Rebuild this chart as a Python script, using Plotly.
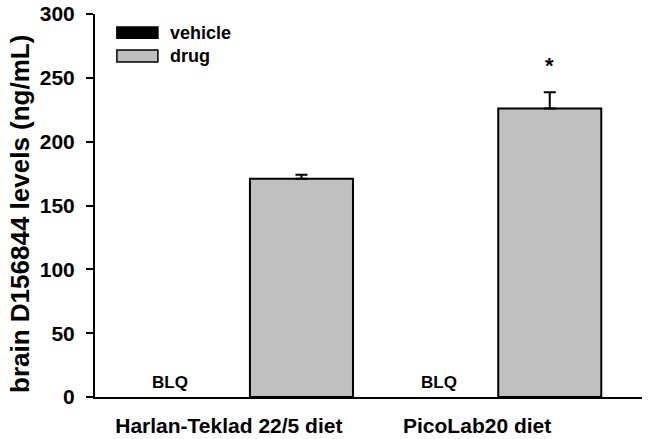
import plotly.graph_objects as go

# ---- data ----
categories = ["Harlan-Teklad 22/5 diet", "PicoLab20 diet"]
series_names = ["vehicle", "drug"]
vehicle_values = [None, None]          # below limit of quantification
vehicle_labels = ["BLQ", "BLQ"]
drug_values = [171, 226]
drug_errors = [3, 12.7]
significance = ["", "*"]
star_level = [None, 260]
y_ticks = [0, 50, 100, 150, 200, 250, 300]
y_title = "brain D156844 levels (ng/mL)"

# ---- layout constants ----
BAR_W = 0.415
LABEL_OFF = -0.085
BLQ_OFF = [-0.32, -0.24]
FONT = "Liberation Sans, Arial, sans-serif"
GRAY = "#c0c0c0"

idx = list(range(len(categories)))
veh_x = [i - BAR_W / 2 for i in idx]
drug_x = [i + BAR_W / 2 for i in idx]

fig = go.Figure()
fig.add_trace(go.Bar(
    x=veh_x, y=vehicle_values, width=BAR_W, name=series_names[0],
    marker=dict(color="black", line=dict(color="black", width=2)),
    showlegend=False,
))
fig.add_trace(go.Bar(
    x=drug_x, y=drug_values, width=BAR_W, name=series_names[1],
    marker=dict(color=GRAY, line=dict(color="black", width=2)),
    error_y=dict(type="data", array=drug_errors, symmetric=False,
                 arrayminus=[0] * len(drug_errors),
                 color="black", thickness=2, width=6),
    showlegend=False,
))

annotations = []
for i, lab in enumerate(vehicle_labels):
    annotations.append(dict(
        x=i + BLQ_OFF[i], y=0, xref="x", yref="y", text=lab, showarrow=False,
        yanchor="bottom", yshift=3,
        font=dict(family=FONT, size=17, color="black", weight="bold")))
for i, s in enumerate(significance):
    if s:
        annotations.append(dict(
            x=drug_x[i], y=star_level[i], xref="x", yref="y", text=s,
            showarrow=False, yanchor="middle",
            font=dict(family=FONT, size=22, color="black", weight="bold")))

# y-axis title
annotations.append(dict(
    x=-0.137, y=0.478, xref="paper", yref="paper", text=y_title,
    showarrow=False, textangle=-90, xanchor="center", yanchor="middle",
    font=dict(family=FONT, size=26, color="black", weight="bold")))

# manual legend (wide swatches)
leg_items = [(series_names[0], "black", 0.966, 0.937),
             (series_names[1], GRAY, 0.906, 0.875)]
shapes = []
for name, col, y1, y0 in leg_items:
    shapes.append(dict(type="rect", xref="paper", yref="paper",
                       x0=0.040, x1=0.115, y0=y0, y1=y1,
                       fillcolor=col, line=dict(color="black", width=1.5)))
    annotations.append(dict(
        x=0.1335, y=(y0 + y1) / 2, xref="paper", yref="paper", text=name,
        showarrow=False, xanchor="left", yanchor="middle",
        font=dict(family=FONT, size=18, color="black", weight="bold")))

fig.update_layout(
    width=649, height=439,
    margin=dict(l=95, r=7, t=14, b=42),
    paper_bgcolor="white", plot_bgcolor="white",
    barmode="overlay",
    annotations=annotations, shapes=shapes,
    font=dict(family=FONT, color="black"),
)
fig.update_xaxes(
    range=[-0.624, 1.579], automargin=False,
    tickvals=[i + LABEL_OFF for i in idx], ticktext=categories,
    ticks="", showgrid=False, zeroline=False,
    showline=True, linecolor="black", linewidth=2,
    tickfont=dict(family=FONT, size=21, color="black", weight="bold"),
    ticklabelstandoff=9,
)
fig.update_yaxes(
    range=[0, 300], tickvals=y_ticks, automargin=False,
    ticks="outside", ticklen=7, tickwidth=2, tickcolor="black",
    showgrid=False, zeroline=False,
    showline=True, linecolor="black", linewidth=2,
    tickfont=dict(family=FONT, size=21, color="black", weight="bold"),
    ticklabelstandoff=7, ticklabeloverflow="allow",
)

# remove the default 8px page margin so the figure fills the window exactly
fig.write_html("out.html", config={"displayModeBar": False},
               post_script="document.body.style.margin='0';")
